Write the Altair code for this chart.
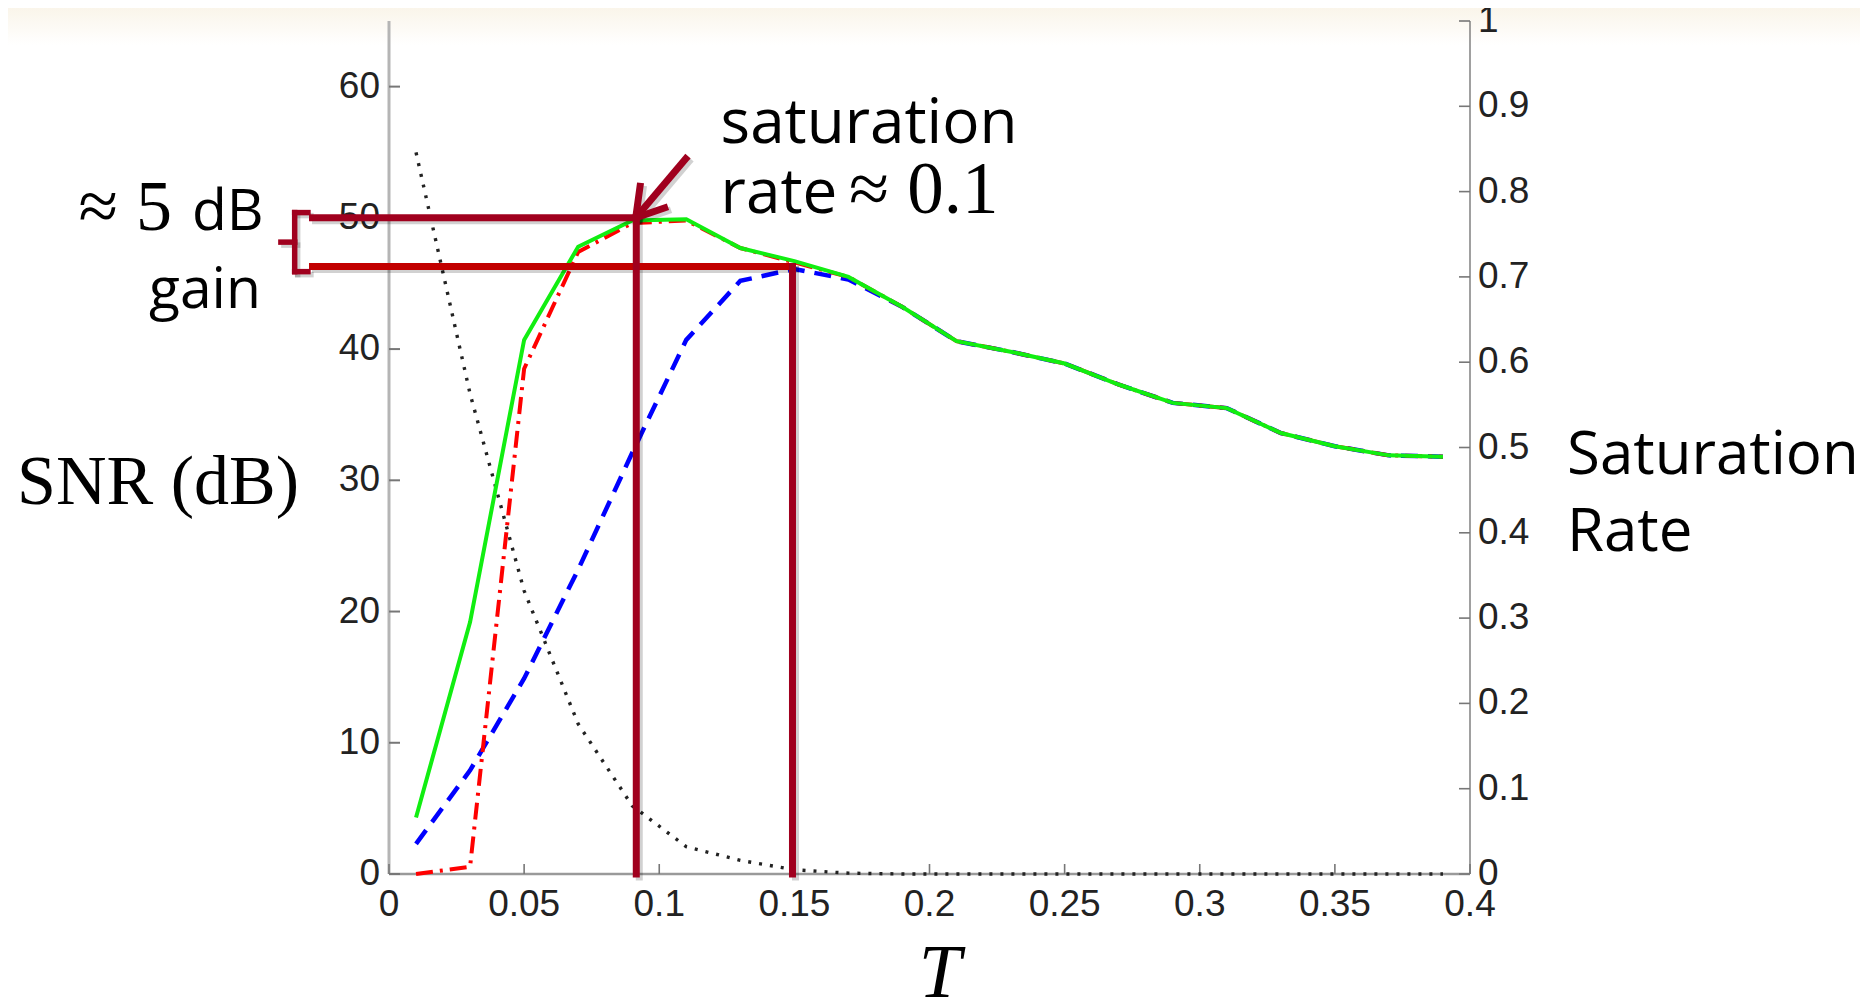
import altair as alt
import pandas as pd

# ---------------- data ----------------
T = [0.01, 0.03, 0.05, 0.07, 0.09, 0.11, 0.13, 0.15, 0.17, 0.19,
     0.21, 0.23, 0.25, 0.27, 0.29, 0.31, 0.33, 0.35, 0.37, 0.39]
snr_green = [4.3, 19.2, 40.7, 47.8, 49.8, 49.9, 47.7, 46.7, 45.5, 43.2,
             40.6, 39.8, 38.9, 37.3, 35.9, 35.5, 33.6, 32.6, 31.9, 31.8]
snr_red = [0.0, 0.55, 38.5, 47.4, 49.6, 49.8, 47.7, 46.6, 45.5, 43.2,
           40.6, 39.8, 38.9, 37.3, 35.9, 35.5, 33.6, 32.6, 31.9, 31.8]
snr_blue = [2.3, 7.9, 14.9, 23.2, 32.1, 40.7, 45.2, 46.1, 45.3, 43.2,
            40.6, 39.8, 38.9, 37.3, 35.9, 35.5, 33.6, 32.6, 31.9, 31.8]
sat_rate = [0.846, 0.563, 0.332, 0.176, 0.080, 0.032, 0.016, 0.005, 0.001, 0.0,
            0.0, 0.0, 0.0, 0.0, 0.0, 0.0, 0.0, 0.0, 0.0, 0.0]

x_ticks = [0, 0.05, 0.1, 0.15, 0.2, 0.25, 0.3, 0.35, 0.4]
left_ticks = [0, 10, 20, 30, 40, 50, 60]
right_ticks = [0, 0.1, 0.2, 0.3, 0.4, 0.5, 0.6, 0.7, 0.8, 0.9, 1]

# annotation geometry (data coordinates: T, SNR)
seg_T1 = [-0.0283, -0.0283, 0.0915, 0.1493, 0.1098, 0.0913, 0.0913,
          -0.0349, -0.0349, -0.0349, -0.0349]
seg_S1 = [50.0, 46.3, 50.0, 46.3, 54.5, 50.0, 50.0,
          50.4, 50.4, 45.9, 48.15]
seg_T2 = [0.0915, 0.1493, 0.0915, 0.1493, 0.0913, 0.0929, 0.1020,
          -0.0349, -0.0300, -0.0300, -0.0400]
seg_S2 = [50.0, 46.3, 0.0, 0.0, 50.0, 52.4, 50.76,
          45.9, 50.4, 45.9, 48.15]
seg_col = ["#a0001e", "#c20000", "#a0001e", "#a0001e", "#a0001e", "#a0001e", "#a0001e",
           "#a0001e", "#a0001e", "#a0001e", "#a0001e"]
seg_w = [7, 7, 7, 7, 7, 7, 7, 5.5, 5.5, 5.5, 5.5]

W, H = 1081, 853
SANS = "Liberation Sans"
ANN = "Open Sans"
SERIF = "Liberation Serif"

xscale = alt.Scale(domain=[0, 0.4], nice=False, zero=False)
yscale = alt.Scale(domain=[0, 65], nice=False, zero=False)
rscale = alt.Scale(domain=[0, 1], nice=False, zero=False)

df = pd.DataFrame({"T": T, "green": snr_green, "red": snr_red,
                   "blue": snr_blue, "rate": sat_rate})
one = pd.DataFrame({"k": [0]})

X = lambda f: alt.X(f, scale=xscale, axis=None)
Y = lambda f: alt.Y(f, scale=yscale, axis=None)
R = lambda f: alt.Y(f, scale=rscale, axis=None)

# background band at the top of the page
bg = alt.Chart(one).mark_rect(
    fill=alt.LinearGradient(gradient="linear",
                            stops=[alt.GradientStop(color="#faf5ea", offset=0),
                                   alt.GradientStop(color="#ffffff", offset=1)],
                            x1=0, x2=0, y1=0, y2=1)
).encode(x=alt.value(-381), x2=alt.value(W + 390), y=alt.value(-13), y2=alt.value(24))

# ---------- axes drawn as marks ----------
dom_left = alt.Chart(one).mark_rule(color="#b5b5b5", strokeWidth=3).encode(
    x=alt.value(0), y=alt.value(0), y2=alt.value(H))
dom_bottom = alt.Chart(one).mark_rule(color="#9a9a9a", strokeWidth=2.5).encode(
    x=alt.value(0), x2=alt.value(W), y=alt.value(H))
dom_right = alt.Chart(one).mark_rule(color="#808080", strokeWidth=1.5).encode(
    x=alt.value(W), y=alt.value(0), y2=alt.value(H))

lt = alt.Chart(pd.DataFrame({"v": left_ticks})).mark_rule(color="#777777", strokeWidth=2).encode(
    y=Y("v:Q"), x=alt.value(0), x2=alt.value(11))
bt = alt.Chart(pd.DataFrame({"v": x_ticks})).mark_rule(color="#777777", strokeWidth=1.6).encode(
    x=X("v:Q"), y=alt.value(H), y2=alt.value(H - 10))
rt = alt.Chart(pd.DataFrame({"v": right_ticks})).mark_rule(color="#777777", strokeWidth=1.6).encode(
    y=R("v:Q"), x=alt.value(W - 11), x2=alt.value(W))

lbl = dict(font=SANS, fontSize=37, color="#222222")
ll = alt.Chart(pd.DataFrame({"v": left_ticks})).mark_text(align="right", baseline="middle", **lbl).encode(
    y=Y("v:Q"), x=alt.value(-9), text=alt.Text("v:Q", format="~g"))
bl = alt.Chart(pd.DataFrame({"v": x_ticks})).mark_text(align="center", baseline="top", **lbl).encode(
    x=X("v:Q"), y=alt.value(H + 13), text=alt.Text("v:Q", format="~g"))
rl = alt.Chart(pd.DataFrame({"v": right_ticks})).mark_text(align="left", baseline="middle", **lbl).encode(
    y=R("v:Q"), x=alt.value(W + 8), text=alt.Text("v:Q", format="~g"))

def ptext(text, px, py, font, size, align, style="normal"):
    return alt.Chart(pd.DataFrame({"txt": [text]})).mark_text(
        font=font, fontSize=size, align=align, baseline="alphabetic",
        fontStyle=style, color="#000000"
    ).encode(x=alt.value(px), y=alt.value(py), text="txt:N")

t_snr = ptext("SNR (dB)", -231, 483, SERIF, 70, "center")
t_sat = ptext("Saturation", W + 97, 453, ANN, 60, "left")
t_rate = ptext("Rate", W + 97, 530, ANN, 60, "left")
t_T = ptext("T", 551, H + 123, SERIF, 76, "center", "italic")

# ---------- series ----------
dotted = alt.Chart(df).mark_line(color="#222222", strokeWidth=3.4, strokeDash=[3, 8],
                                 strokeCap="butt").encode(x=X("T:Q"), y=R("rate:Q"))
blue = alt.Chart(df).mark_line(color="#0000ff", strokeWidth=4.5, strokeDash=[17, 10]).encode(
    x=X("T:Q"), y=Y("blue:Q"))
red = alt.Chart(df).mark_line(color="#ff0000", strokeWidth=4, strokeDash=[17, 7, 3, 7]).encode(
    x=X("T:Q"), y=Y("red:Q"))
green = alt.Chart(df).mark_line(color="#11ee11", strokeWidth=4).encode(
    x=X("T:Q"), y=Y("green:Q"))

# ---------- annotations ----------
segs = pd.DataFrame({"T1": seg_T1, "S1": seg_S1, "T2": seg_T2, "S2": seg_S2,
                     "c": seg_col, "w": seg_w})
seg_enc = dict(x=X("T1:Q"), x2="T2:Q", y=Y("S1:Q"), y2="S2:Q")
shadow = alt.Chart(segs).mark_rule(color="#000000", opacity=0.18, strokeCap="square",
                                   xOffset=3, x2Offset=3, yOffset=3, y2Offset=3).encode(
    strokeWidth=alt.StrokeWidth("w:Q", scale=None), **seg_enc)
lines = alt.Chart(segs).mark_rule(strokeCap="square").encode(
    color=alt.Color("c:N", scale=None),
    strokeWidth=alt.StrokeWidth("w:Q", scale=None), **seg_enc)


def label(text, t, s, font, size, align):
    return alt.Chart(pd.DataFrame({"T": [t], "S": [s], "txt": [text]})).mark_text(
        font=font, fontSize=size, align=align, baseline="alphabetic", color="#000000"
    ).encode(x=X("T:Q"), y=Y("S:Q"), text="txt:N")


texts = [
    label("saturation", 0.1227, 55.74, ANN, 62, "left"),
    label("rate", 0.1227, 50.4, ANN, 62, "left"),
    label("≈ 0.1", 0.1702, 50.4, SERIF, 73, "left"),
    label("≈ 5", -0.0803, 49.1, SERIF, 72, "right"),
    label("dB", -0.0729, 49.1, ANN, 57, "left"),
    label("gain", -0.0474, 43.16, ANN, 57, "right"),
]

chart = alt.layer(
    bg, dom_left, dom_bottom, dom_right, lt, bt, rt, ll, bl, rl,
    t_snr, t_sat, t_rate, t_T,
    dotted, blue, red, green, shadow, lines, *texts
).resolve_scale(y="independent").properties(
    width=W, height=H,
    padding={"left": 381, "top": 13, "right": 390, "bottom": 124},
    autosize=alt.AutoSizeParams(type="none"),
    background="white",
).configure_view(stroke="transparent")

chart.save("out.html", embed_options={"renderer": "svg", "actions": False})
